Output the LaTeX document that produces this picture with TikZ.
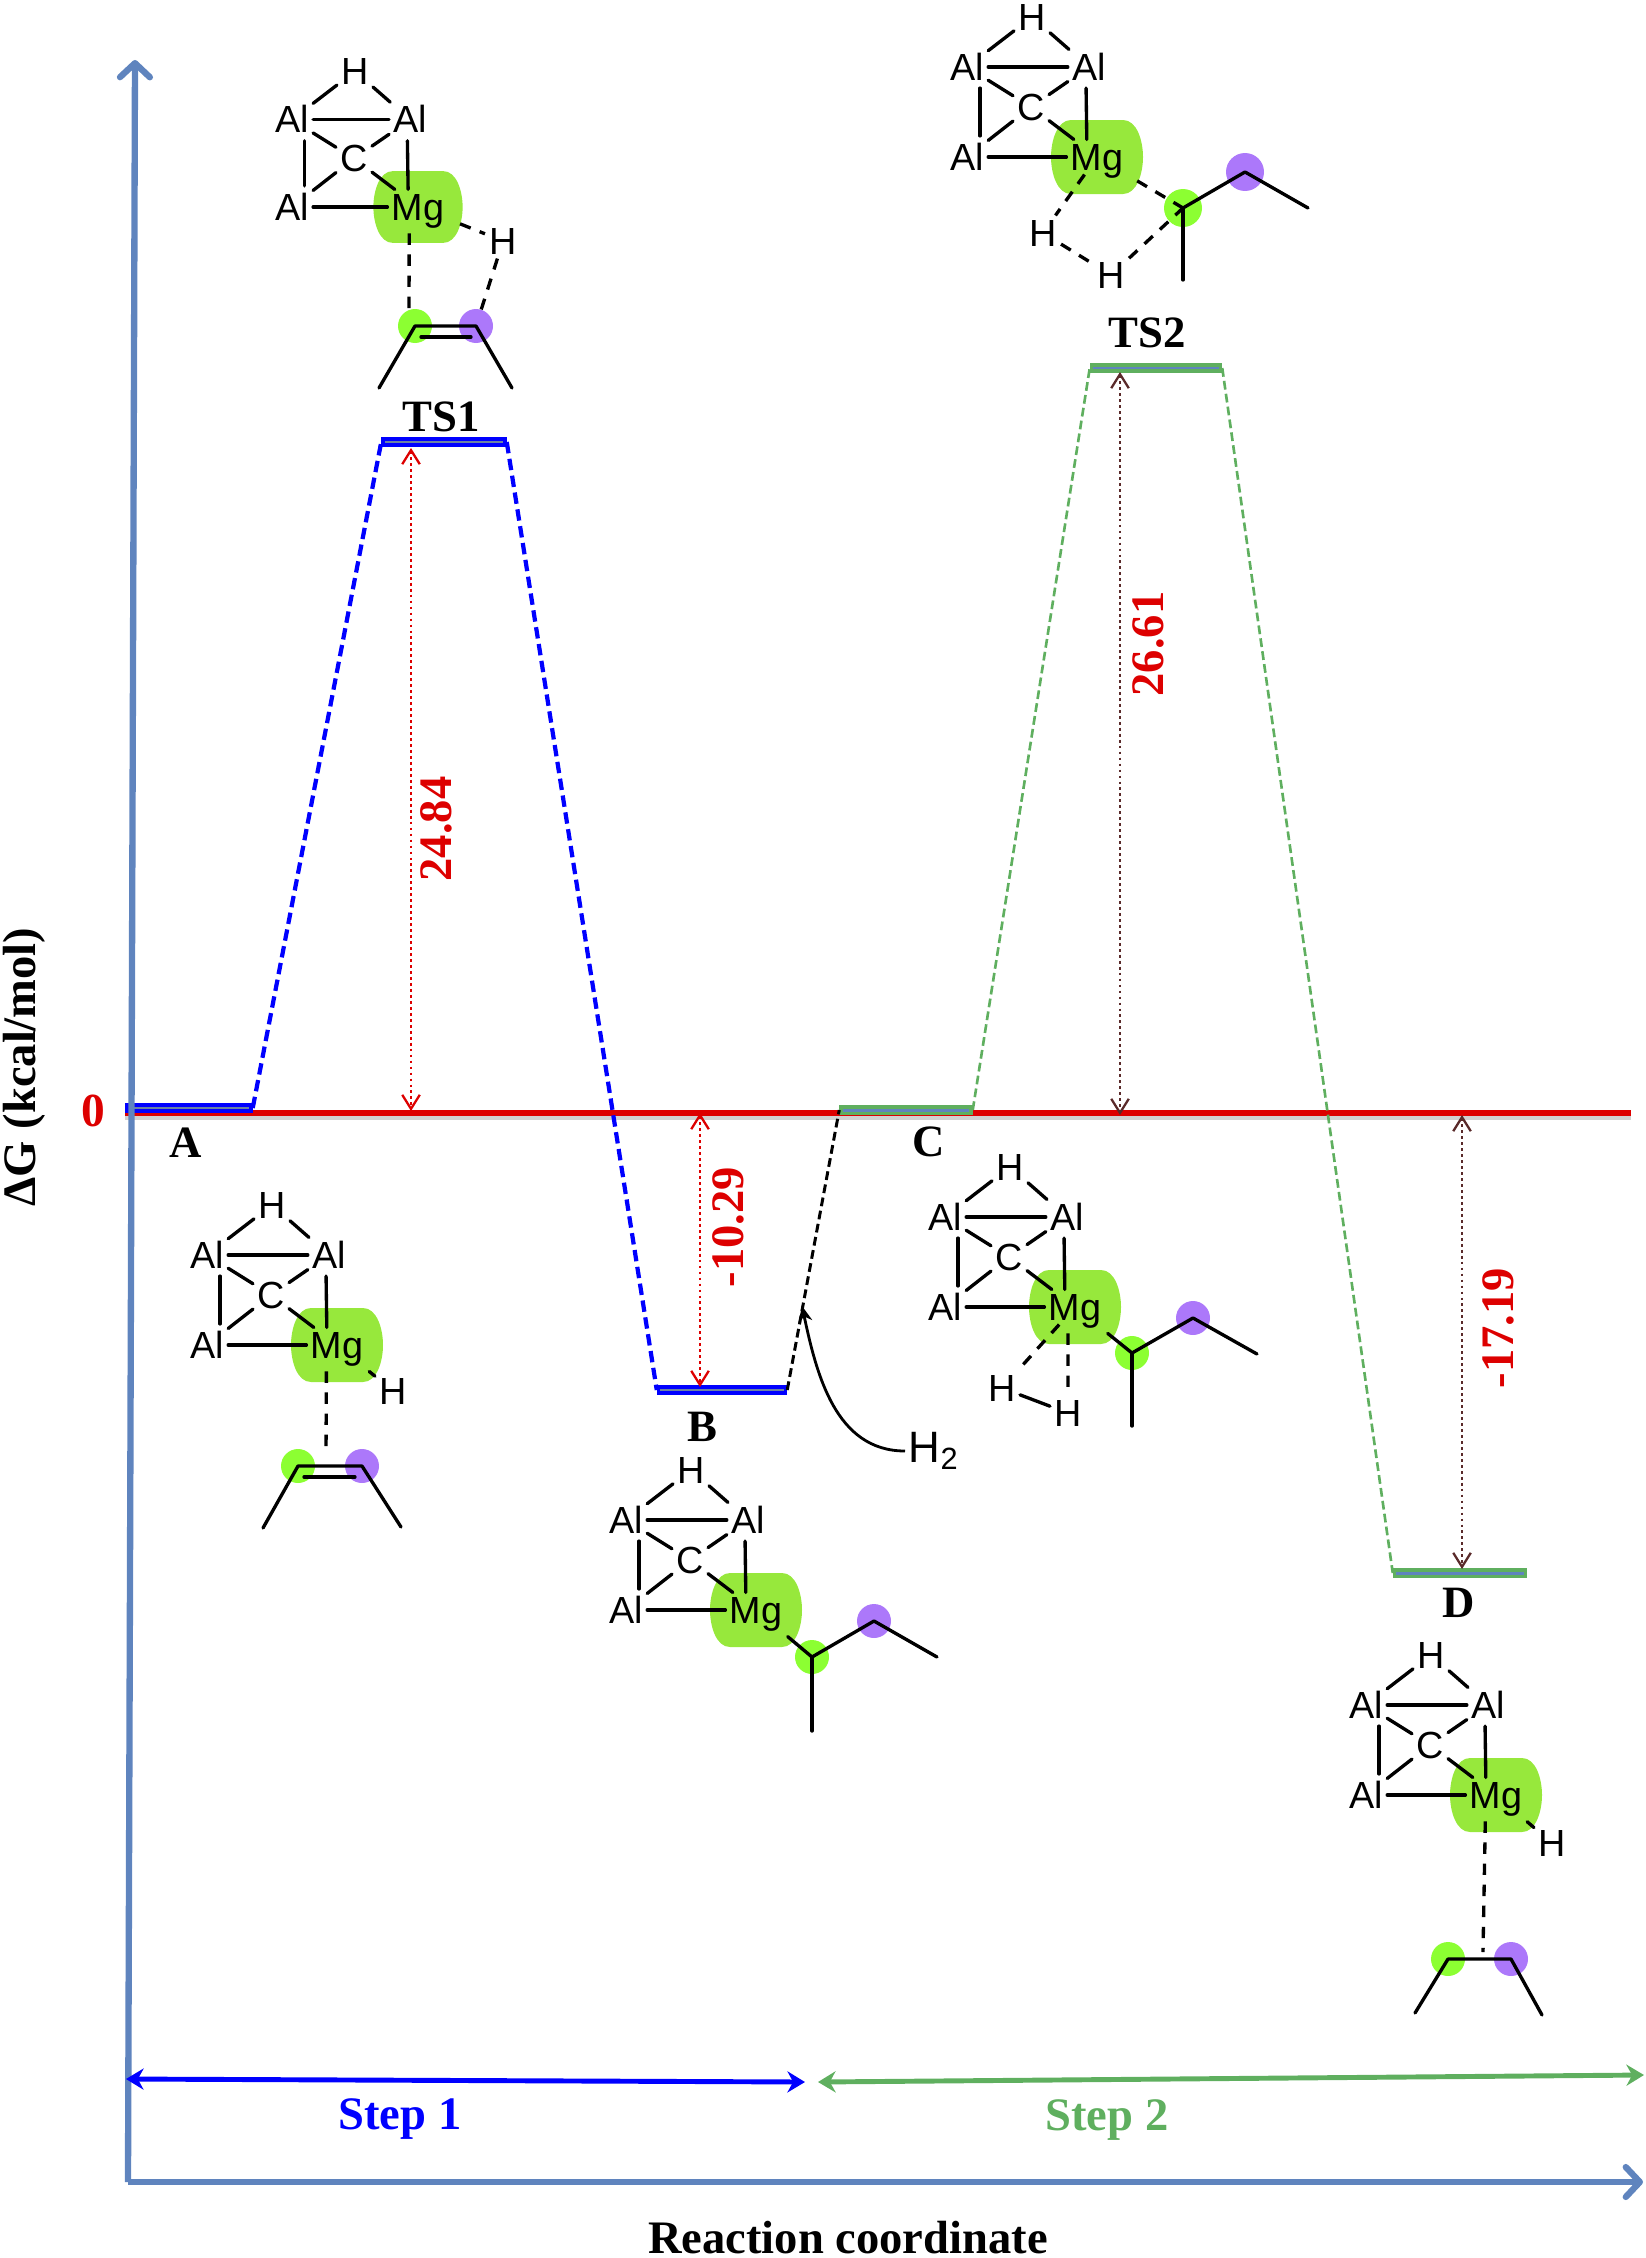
\documentclass[tikz,border=0pt]{standalone}
\usepackage{fontspec}
\setmainfont{Liberation Serif}
\newfontfamily\arialfont{Liberation Sans}
\usetikzlibrary{arrows.meta}

\definecolor{axisblue}{HTML}{5F84BE}
\definecolor{zerored}{HTML}{DD0000}
\definecolor{steelgreen}{HTML}{5FAF5F}
\definecolor{arrowbrown}{HTML}{5A2A2A}
\definecolor{mggreen}{HTML}{97E83C}
\definecolor{ballgreen}{HTML}{8CFF32}
\definecolor{ballpurple}{HTML}{AC78FA}

\tikzset{
  atom/.style={font=\arialfont\fontsize{21.5}{21.5}\selectfont, inner sep=1.5pt, outer sep=1pt, text height=15pt, text depth=0pt},
  bond/.style={line width=1.9pt, line cap=round},
  dashbond/.style={line width=1.9pt, dash pattern=on 6.5pt off 5.5pt},
  ballg/.style={circle, fill=ballgreen, minimum size=#1, inner sep=0pt},
  ballp/.style={circle, fill=ballpurple, minimum size=#1, inner sep=0pt},
  bluelevel/.style={draw=blue, fill=axisblue!60!gray, line width=2pt, minimum height=0.12cm, inner sep=0pt},
  greenlevel/.style={draw=steelgreen, fill=axisblue, line width=2pt, minimum height=0.13cm, inner sep=0pt},
  bluepath/.style={blue, line width=2.4pt, dash pattern=on 6.5pt off 3.2pt},
  greenpath/.style={steelgreen, line width=1.5pt, dash pattern=on 5pt off 2.4pt},
  blackpath/.style={black, line width=1.7pt, dash pattern=on 5pt off 2.6pt},
  axisline/.style={axisblue, line width=3.6pt, -{Straight Barb[length=8pt,width=17pt,round]}},
  gap/.style={line width=1.6pt, dash pattern=on 1.6pt off 1.8pt, {Straight Barb[length=8pt,width=10pt,line width=1.3pt]}-{Straight Barb[length=8pt,width=10pt,line width=1.3pt]}},
  stepline/.style={line width=2.8pt, {Stealth[length=10pt,width=12pt]}-{Stealth[length=10pt,width=12pt]}},
  lab/.style={font=\bfseries\fontsize{25.5}{25.5}\selectfont},
  big/.style={font=\bfseries\fontsize{26.5}{26.5}\selectfont},
  val/.style={font=\bfseries\fontsize{26.5}{26.5}\selectfont, text=zerored, rotate=90},
}

% the Al3 C H cage with Mg, used by every structure
\newcommand{\alcore}[4]{
  \begin{scope}[shift={(#2,#3)}, scale=#4]
    \fill[mggreen] (-26,-37) -- (26,-37) .. controls (40,-37) and (46,-16) .. (46,0)
      .. controls (46,16) and (40,37) .. (26,37) -- (-26,37)
      .. controls (-40,37) and (-46,16) .. (-46,0) .. controls (-46,-16) and (-40,-37) .. (-26,-37) -- cycle;
    \node[atom] (#1Mg) at (0,0) {Mg};
    \node[atom] (#1H) at (-65,-140) {H};
    \node[atom] (#1AlL) at (-130,-90) {Al};
    \node[atom] (#1AlR) at (-8,-90) {Al};
    \node[atom] (#1C) at (-66,-50) {C};
    \node[atom] (#1AlB) at (-130,0) {Al};
    \draw[bond] (#1H) -- (#1AlL);
    \draw[bond] (#1H) -- (#1AlR);
    \draw[bond] (#1AlL) -- (#1AlR);
    \draw[bond] (#1AlL) -- (#1C);
    \draw[bond] (#1AlR) -- (#1C);
    \draw[bond] (#1AlB) -- (#1C);
    \draw[bond] (#1C) -- (#1Mg);
    \draw[bond] (#1AlB) -- (#1Mg);
    \draw[bond, shorten <=2pt, shorten >=2pt] ([xshift=7.4pt]#1AlL.south) -- ([xshift=7.4pt]#1AlB.north);
    \draw[bond, shorten <=2pt] ([xshift=-1.7pt]#1AlR.south) -- ([xshift=-5.8pt]#1Mg.north);
  \end{scope}
}

\begin{document}
\begin{tikzpicture}[x=0.02cm, y=-0.02cm]
  \useasboundingbox (0,0) rectangle (1646,2258);

  % Zero line
  \coordinate (zeroL) at (125,1113);
  \coordinate (zeroR) at (1631,1113);
  \draw[black!18, line width=2pt] ([yshift=-2.8pt]zeroL) -- ([yshift=-2.8pt]zeroR);
  \draw[zerored, line width=3pt] (zeroL) -- (zeroR);
  \node[font=\bfseries\fontsize{27}{27}\selectfont, text=zerored] (zero) at (93,1111) {0};

  % Levels
  \node[bluelevel, minimum width=2.48cm] (A) at (189,1108) {};
  \node[bluelevel, minimum width=2.44cm] (TS1) at (444,442) {};
  \node[bluelevel, minimum width=2.54cm] (B) at (722,1390) {};
  \node[greenlevel, minimum width=2.6cm] (C) at (906,1110) {};
  \node[greenlevel, minimum width=2.58cm] (TS2) at (1156,368) {};
  \node[greenlevel, minimum width=2.62cm] (D) at (1460,1573) {};

  % Paths between the levels
  \draw[bluepath] (A.east) -- (TS1.west);
  \draw[bluepath] (TS1.east) -- (B.west);
  \draw[blackpath] (B.east) -- (C.west);
  \draw[greenpath] (C.east) -- (TS2.west);
  \draw[greenpath] (TS2.east) -- (D.west);

  % Axes
  \coordinate (origin) at (128,2182);
  \coordinate (yTop) at (135,60);
  \coordinate (xEnd) at (1643,2182);
  \draw[axisline] (origin) -- (yTop);
  \draw[axisline] (origin) -- (xEnd);
  \node[big, rotate=90] (yLabel) at (24,1067) {ΔG (kcal/mol)};
  \node[big] (xLabel) at (848,2238) {Reaction coordinate};

  % Energy gaps
  \coordinate (gapA1) at (411,448);
  \coordinate (gapA2) at (411,1111);
  \coordinate (gapB1) at (700,1113);
  \coordinate (gapB2) at (700,1387);
  \coordinate (gapC1) at (1120,372);
  \coordinate (gapC2) at (1120,1115);
  \coordinate (gapD1) at (1462,1115);
  \coordinate (gapD2) at (1462,1569);
  \draw[gap, zerored] (gapA1) -- (gapA2);
  \draw[gap, zerored] (gapB1) -- (gapB2);
  \draw[gap, arrowbrown] (gapC1) -- (gapC2);
  \draw[gap, arrowbrown] (gapD1) -- (gapD2);
  \node[val] (val1) at (436,829) {24.84};
  \node[val] (val2) at (728,1227) {-10.29};
  \node[val] (val3) at (1148,644) {26.61};
  \node[val] (val4) at (1498,1328) {-17.19};

  % Level names
  \node[lab] (nameTSone) at (441,417) {TS1};
  \node[lab] (nameTStwo) at (1147,333) {TS2};
  \node[lab] (nameA) at (186,1143) {A};
  \node[lab] (nameB) at (702,1427) {B};
  \node[lab] (nameC) at (929,1142) {C};
  \node[lab] (nameD) at (1459,1603) {D};

  % H2 entering
  \node[font=\arialfont\fontsize{25}{25}\selectfont, inner sep=2pt, anchor=west] (hydrogen) at (905,1451) {H\textsubscript{2}};
  \coordinate (hydrogenTip) at (802,1306);
  \draw[line width=1.6pt, -{Stealth[length=9pt,width=8pt]}] (hydrogen.west) to[out=180, in=-78] (hydrogenTip);

  % Steps
  \coordinate (stepA1) at (126,2079);
  \coordinate (stepA2) at (805,2082);
  \coordinate (stepB1) at (818,2082);
  \coordinate (stepB2) at (1644,2075);
  \draw[blue, stepline] (stepA1) -- (stepA2);
  \draw[steelgreen, stepline] (stepB1) -- (stepB2);
  \node[big, text=blue] (stepOne) at (400,2119) {Step 1};
  \node[big, text=steelgreen] (stepTwo) at (1107,2120) {Step 2};

  % Structure TS1
  \node[ballg=0.68cm] (tCa) at (415,326) {};
  \node[ballp=0.68cm] (tCb) at (476,326) {};
  \alcore{t}{418}{207}{0.97}
  \coordinate (tMe1) at (379,388);
  \coordinate (tMe2) at (512,388);
  \coordinate (tIn1) at (421,337);
  \coordinate (tIn2) at (471,337);
  \coordinate (tMid) at (409,312);
  \node[atom] (tHb) at (503,241) {H};
  \draw[bond, line join=round] (tMe1) -- (tCa.center) -- (tCb.center) -- (tMe2);
  \draw[bond] (tIn1) -- (tIn2);
  \draw[dashbond, shorten <=5pt] ([xshift=-5pt]tMg.south) -- (tMid);
  \draw[dashbond, shorten <=7pt] (tMg) -- (tHb);
  \draw[dashbond] (tHb) -- (tCb);

  % Structure TS2
  \node[ballg=0.76cm] (uCa) at (1183,208) {};
  \node[ballp=0.76cm] (uCb) at (1245,172) {};
  \alcore{u}{1097}{157}{1}
  \coordinate (uMe1) at (1308,208);
  \coordinate (uMe2) at (1183,280);
  \node[atom] (uHa) at (1043,233) {H};
  \node[atom] (uHb) at (1111,275) {H};
  \draw[bond, line join=round] (uCa.center) -- (uCb.center) -- (uMe1);
  \draw[bond] (uCa.center) -- (uMe2);
  \draw[dashbond, shorten <=7pt] (uMg) -- (uCa.center);
  \draw[dashbond] (uMg) -- (uHa);
  \draw[dashbond] (uHa) -- (uHb);
  \draw[dashbond] (uHb) -- (uCa.center);

  % Structure A
  \node[ballg=0.68cm] (aCa) at (298,1466) {};
  \node[ballp=0.68cm] (aCb) at (362,1466) {};
  \alcore{a}{337}{1345}{1}
  \coordinate (aMe1) at (263,1528);
  \coordinate (aMe2) at (401,1527);
  \coordinate (aIn1) at (304,1477);
  \coordinate (aIn2) at (355,1477);
  \coordinate (aMid) at (326,1455);
  \node[atom] (aHb) at (393,1391) {H};
  \draw[bond, line join=round] (aMe1) -- (aCa.center) -- (aCb.center) -- (aMe2);
  \draw[bond] (aIn1) -- (aIn2);
  \draw[dashbond, shorten <=5pt] ([xshift=-6pt]aMg.south) -- (aMid);
  \draw[bond, shorten <=8pt] (aMg) -- (aHb);

  % Structure B
  \node[ballg=0.68cm] (bCa) at (812,1657) {};
  \node[ballp=0.68cm] (bCb) at (874,1621) {};
  \alcore{b}{756}{1610}{1}
  \coordinate (bMe1) at (937,1657);
  \coordinate (bMe2) at (812,1731);
  \draw[bond, line join=round] (bCa.center) -- (bCb.center) -- (bMe1);
  \draw[bond] (bCa.center) -- (bMe2);
  \draw[bond, shorten <=8pt] (bMg) -- (bCa.center);

  % Structure C
  \node[ballg=0.68cm] (cCa) at (1132,1353) {};
  \node[ballp=0.68cm] (cCb) at (1193,1318) {};
  \alcore{c}{1075}{1307}{1}
  \coordinate (cMe1) at (1257,1354);
  \coordinate (cMe2) at (1132,1426);
  \node[atom] (cHa) at (1002,1388) {H};
  \node[atom] (cHb) at (1068,1413) {H};
  \draw[bond, line join=round] (cCa.center) -- (cCb.center) -- (cMe1);
  \draw[bond] (cCa.center) -- (cMe2);
  \draw[bond, shorten <=8pt] (cMg) -- (cCa.center);
  \draw[dashbond] (cMg) -- (cHa);
  \draw[dashbond, shorten <=5pt] ([xshift=-4pt]cMg.south) -- (cHb);
  \draw[bond] (cHa) -- (cHb);

  % Structure D
  \node[ballg=0.68cm] (dCa) at (1448,1959) {};
  \node[ballp=0.68cm] (dCb) at (1511,1959) {};
  \alcore{d}{1496}{1795}{1}
  \coordinate (dMe1) at (1415,2013);
  \coordinate (dMe2) at (1542,2015);
  \coordinate (dMid) at (1483,1952);
  \node[atom] (dHb) at (1552,1843) {H};
  \draw[bond, line join=round] (dMe1) -- (dCa.center) -- (dCb.center) -- (dMe2);
  \draw[dashbond, shorten <=5pt] ([xshift=-6pt]dMg.south) -- (dMid);
  \draw[bond, shorten <=8pt] (dMg) -- (dHb);
\end{tikzpicture}
\end{document}
